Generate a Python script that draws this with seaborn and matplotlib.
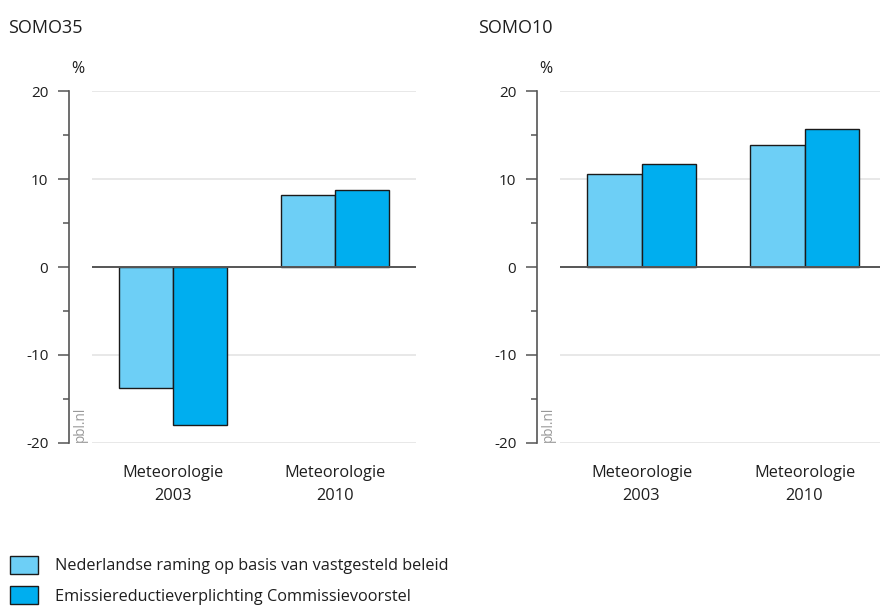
import numpy as np
import pandas as pd
import matplotlib
matplotlib.use("Agg")
import matplotlib.pyplot as plt
from matplotlib.ticker import MultipleLocator
import seaborn as sns

# ----------------------------------------------
# Data
# ----------------------------------------------
categories = ["Meteorologie\n2003", "Meteorologie\n2010"]
series     = ["Nederlandse raming op basis van vastgesteld beleid",
              "Emissiereductieverplichting Commissievoorstel"]
somo35_nl  = [-13.7, 8.15]
somo35_ec  = [-17.9, 8.75]
somo10_nl  = [10.55, 13.85]
somo10_ec  = [11.7, 15.65]

COLORS = ["#6dcff6", "#00aeef"]
AXIS_C = "#555555"
GRID_C = "#e6e6e6"
TEXT_C = "#1e1e1e"

sns.set_theme(style="white")
plt.rcParams["font.family"] = ["Open Sans", "DejaVu Sans"]
plt.rcParams["axes.unicode_minus"] = False


def make_frame(nl, ec):
    return pd.DataFrame({
        "cat"    : categories * 2,
        "series" : [series[0]] * 2 + [series[1]] * 2,
        "value"  : list(nl) + list(ec),
    })


def draw_panel(ax, df, title, title_x, xmax):
    sns.barplot(data=df, x="cat", y="value", hue="series",
                palette=COLORS, saturation=1, width=0.667,
                edgecolor="#1a1a1a", linewidth=1.0, ax=ax,
                legend=False, zorder=3)
    ax.set_xlim(-0.5, xmax)
    ax.set_ylim(-20, 20)
    ax.yaxis.set_major_locator(MultipleLocator(10))
    ax.yaxis.set_minor_locator(MultipleLocator(5))
    ax.grid(False)
    for v in (-20, -10, 10, 20):
        ax.axhline(v, color=GRID_C, lw=1.3, zorder=1)
    ax.axhline(0, color=AXIS_C, lw=1.4, zorder=4)

    for s in ("top", "right", "bottom"):
        ax.spines[s].set_visible(False)
    ax.spines["left"].set_position(("outward", 16.5))
    ax.spines["left"].set_color(AXIS_C)
    ax.spines["left"].set_linewidth(1.2)
    ax.spines["left"].set_bounds(-20, 20)

    ax.tick_params(axis="y", which="major", length=8, width=1.1,
                   color=AXIS_C, labelsize=11, labelcolor=TEXT_C,
                   pad=7, left=True)
    ax.tick_params(axis="y", which="minor", length=4.3, width=1.1,
                   color=AXIS_C, left=True)
    ax.tick_params(axis="x", length=0, labelsize=11.8, labelcolor=TEXT_C,
                   pad=16)
    for lab in ax.get_xticklabels():
        lab.set_linespacing(1.6)
    ax.set_xlabel("")
    ax.set_ylabel("")
    ax.patch.set_alpha(0)

    fig = ax.figure
    fig.text(title_x / 880, 1 - 28 / 607, title, fontsize=13,
             ha="left", va="center", color=TEXT_C)
    spine_x = ax.get_position().x0 - 23 / 880
    fig.text(spine_x + 9 / 880, 1 - 69 / 607, "%", fontsize=11.5,
             ha="center", va="center", color=TEXT_C)
    fig.text(spine_x + 11 / 880, 1 - 442 / 607, "pbl.nl", fontsize=9.8,
             rotation=90, ha="center", va="bottom", color="#999999")


fig = plt.figure(figsize=(8.8, 6.07), dpi=100)
fig.patch.set_facecolor("white")

bottom = (607 - 443) / 607
height = 352 / 607
ax1 = fig.add_axes([92 / 880, bottom, 324 / 880, height])
ax2 = fig.add_axes([560 / 880, bottom, 320 / 880, height])

draw_panel(ax1, make_frame(somo35_nl, somo35_ec), "SOMO35", 8, 1.5)
draw_panel(ax2, make_frame(somo10_nl, somo10_ec), "SOMO10", 478, 1.463)

handles = [ax1.containers[0].patches[0], ax1.containers[1].patches[0]]
fig.legend(handles, series, loc="upper left",
           bbox_to_anchor=(10 / 880, 1 - 556 / 607),
           frameon=False, fontsize=11.7, borderpad=0, borderaxespad=0,
           handlelength=1.72, handleheight=1.3, handletextpad=1.05,
           labelspacing=0.75, labelcolor=TEXT_C)

fig.savefig("out.png", dpi=100)
plt.close(fig)
